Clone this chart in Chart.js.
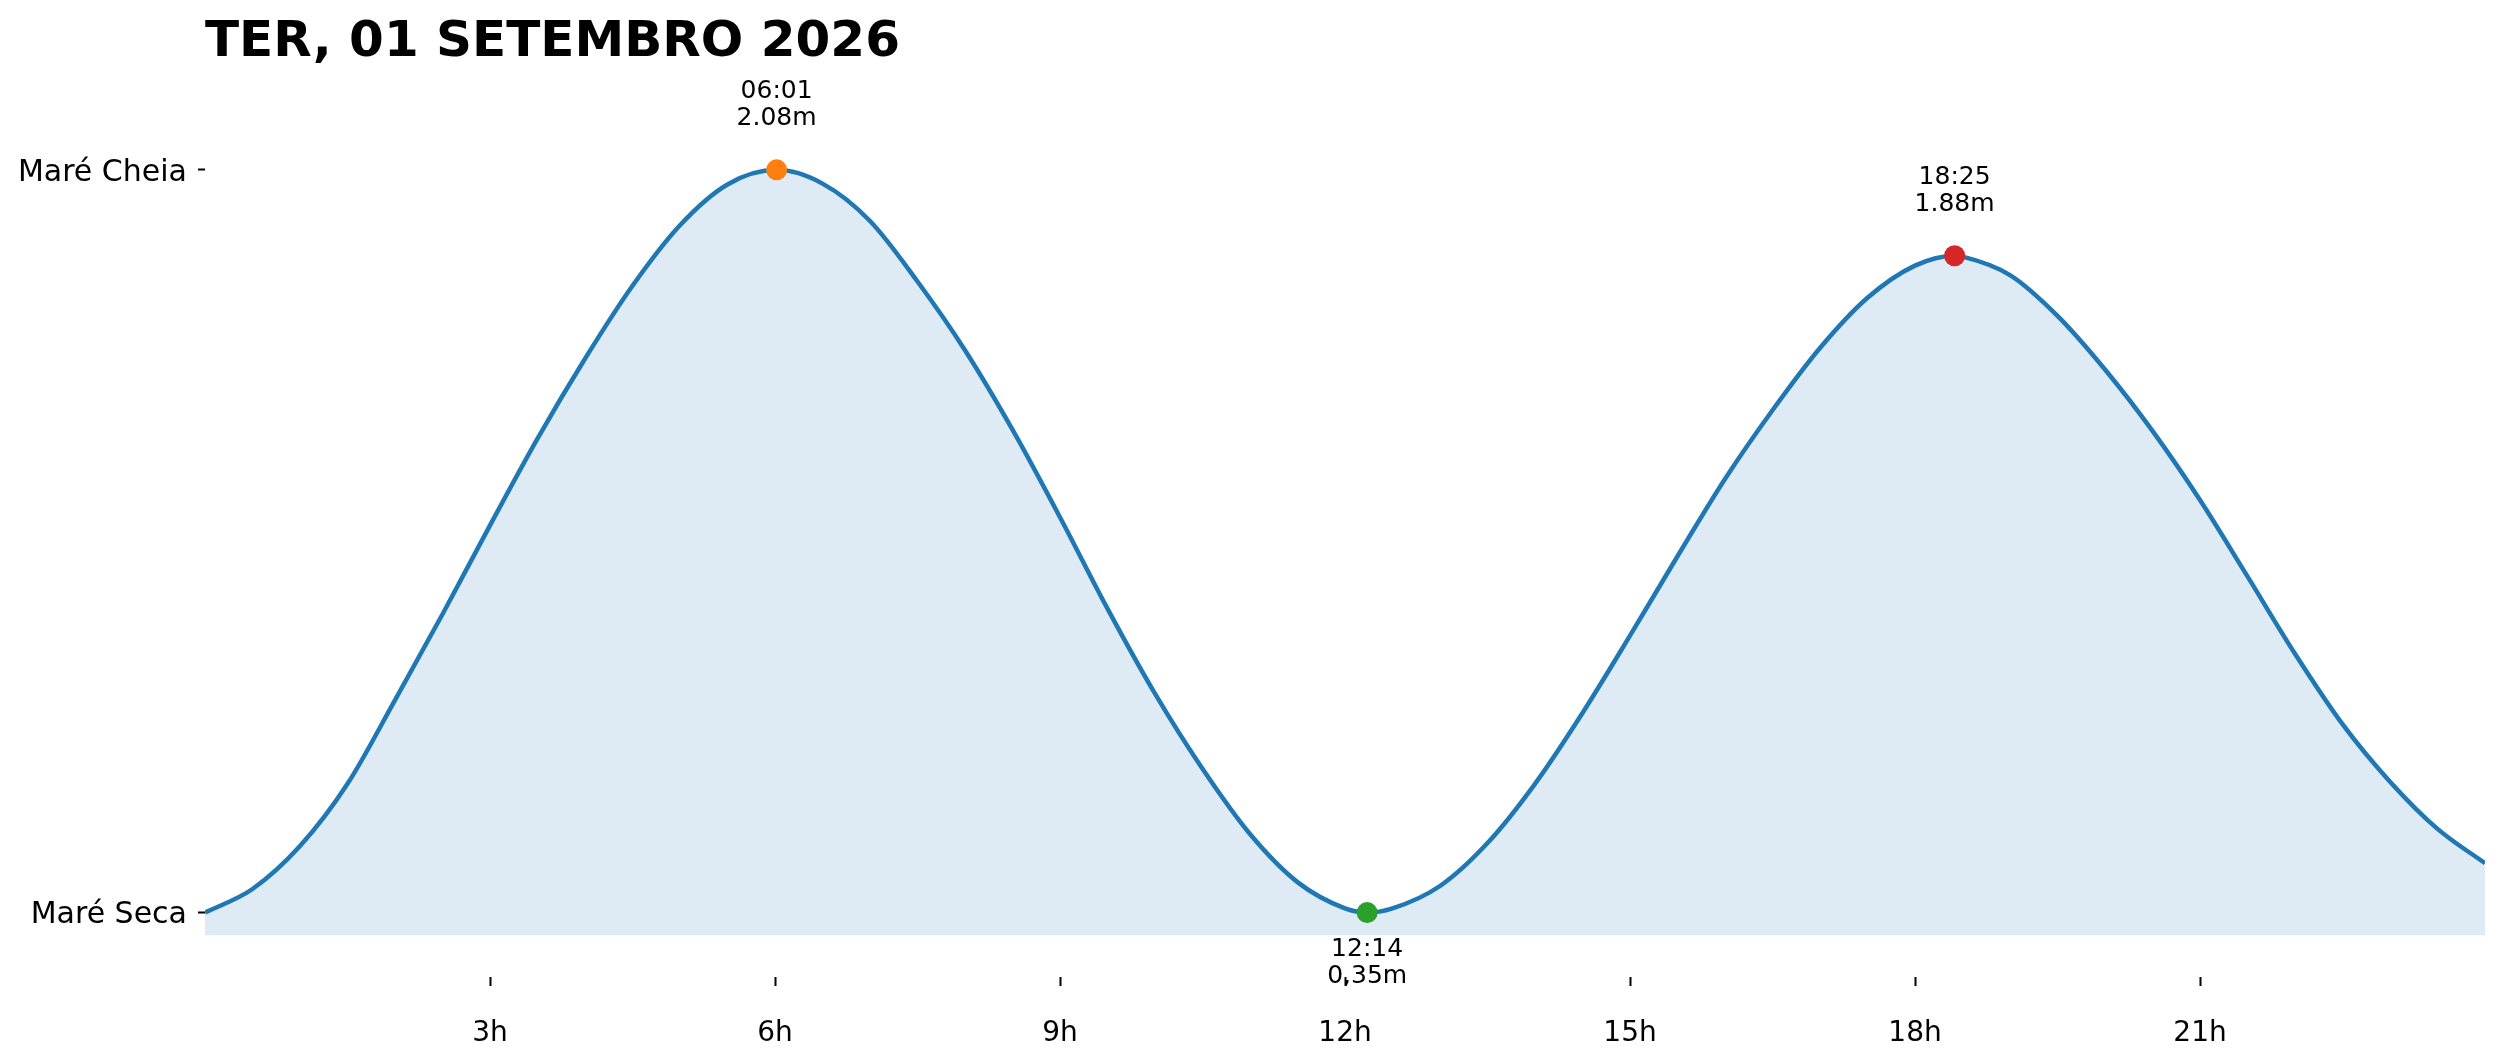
<!DOCTYPE html>
<html>
<head>
<meta charset="utf-8">
<title>Tábua de marés</title>
<script src="https://cdn.jsdelivr.net/npm/chart.js@4/dist/chart.umd.min.js"></script>
<style>
  html, body { margin: 0; padding: 0; background: #fff; }
  #wrap { width: 2501px; height: 1062px; }
</style>
</head>
<body>
<div id="wrap"><canvas id="tideChart" width="2501" height="1062"></canvas></div>
<script>
// titulo do dia
const dayTitle = 'TER, 01 SETEMBRO 2026';

// curva da mare (hora do dia, altura em metros), de meia em meia hora
const hours = [0, 0.5, 1, 1.5, 2, 2.5, 3, 3.5, 4, 4.5, 5, 5.5, 6.017, 6.5, 7, 7.5, 8, 8.5, 9, 9.5, 10, 10.5, 11, 11.5, 12,
               12.233, 12.5, 13, 13.5, 14, 14.5, 15, 15.5, 16, 16.5, 17, 17.5, 18, 18.417, 18.5, 19, 19.5, 20, 20.5, 21,
               21.5, 22, 22.5, 23, 23.5, 24];
const levels = [0.35, 0.405, 0.505, 0.65, 0.845, 1.045, 1.252, 1.454, 1.64, 1.81, 1.951, 2.046, 2.08, 2.048, 1.961, 1.82,
                1.66, 1.475, 1.271, 1.058, 0.86, 0.685, 0.533, 0.421, 0.36,
                0.35, 0.36, 0.412, 0.512, 0.65, 0.815, 0.995, 1.18, 1.36, 1.52, 1.665, 1.782, 1.857, 1.88, 1.878, 1.835,
                1.74, 1.615, 1.472, 1.311, 1.133, 0.953, 0.789, 0.655, 0.545, 0.465];

// pontos de mare cheia / seca
const extremeHours  = [6.017, 12.233, 18.417];
const extremeLevels = [2.08, 0.35, 1.88];
const extremeTimes  = ['06:01', '12:14', '18:25'];
const extremeLabels = ['2.08m', '0,35m', '1.88m'];
const extremeKinds  = ['cheia', 'seca', 'cheia'];

// eixos
const xTickValues = [3, 6, 9, 12, 15, 18, 21];
const xTickLabels = ['3h', '6h', '9h', '12h', '15h', '18h', '21h'];
const yTickValues = [0.35, 2.08];
const yTickLabels = ['Maré Seca', 'Maré Cheia'];
const fillBase = 0.297;

const markerColors = ['#ff7f0e', '#2ca02c', '#d62728'];
const FONT = "'DejaVu Sans', 'Liberation Sans', sans-serif";

const curve = hours.map((h, i) => ({ x: h, y: levels[i] }));
const extremes = extremeHours.map((h, i) => ({ x: h, y: extremeLevels[i] }));

const tideLabels = {
    id: 'tideLabels',
    afterDatasetsDraw(chart) {
        const { ctx, scales } = chart;
        ctx.save();
        ctx.fillStyle = '#000';
        ctx.textAlign = 'center';
        ctx.textBaseline = 'alphabetic';
        ctx.font = '25px ' + FONT;
        extremeHours.forEach((h, i) => {
            const px = scales.x.getPixelForValue(h);
            const py = scales.y.getPixelForValue(extremeLevels[i]);
            if (extremeKinds[i] === 'cheia') {
                ctx.fillText(extremeTimes[i], px, py - 72);
                ctx.fillText(extremeLabels[i], px, py - 45);
            } else {
                ctx.fillText(extremeTimes[i], px, py + 43);
                ctx.fillText(extremeLabels[i], px, py + 70);
            }
        });
        // titulo
        ctx.textAlign = 'left';
        ctx.font = 'bold 50px ' + FONT;
        ctx.fillText(dayTitle, 205, 56);
        ctx.restore();
    }
};

new Chart(document.getElementById('tideChart').getContext('2d'), {
    type: 'line',
    data: {
        datasets: [
            {
                label: 'extremos',
                type: 'scatter',
                data: extremes,
                pointRadius: 10.5,
                pointHoverRadius: 10.5,
                pointBackgroundColor: markerColors,
                pointBorderWidth: 0,
                order: 0
            },
            {
                label: 'mare',
                data: curve,
                borderColor: '#1f77b4',
                borderWidth: 4.5,
                pointRadius: 0,
                cubicInterpolationMode: 'monotone',
                fill: { value: fillBase },
                backgroundColor: 'rgba(31, 119, 180, 0.15)',
                order: 1
            }
        ]
    },
    options: {
        responsive: false,
        devicePixelRatio: 1,
        animation: false,
        layout: { padding: { left: 0, right: 16, top: 84, bottom: 0 } },
        plugins: {
            legend: { display: false },
            title: { display: false },
            tooltip: { enabled: false }
        },
        scales: {
            x: {
                type: 'linear',
                min: 0,
                max: 24,
                afterBuildTicks: axis => { axis.ticks = xTickValues.map(v => ({ value: v })); },
                afterFit: axis => { axis.height = 85; },
                ticks: {
                    autoSkip: false,
                    maxRotation: 0,
                    padding: 31,
                    color: '#000',
                    font: { family: FONT, size: 28 },
                    callback: v => xTickLabels[xTickValues.indexOf(v)]
                },
                grid: {
                    drawOnChartArea: false,
                    drawTicks: true,
                    tickLength: 9,
                    tickWidth: 2,
                    tickColor: '#000'
                },
                border: { display: false }
            },
            y: {
                type: 'linear',
                min: 0.2,
                max: 2.28,
                afterBuildTicks: axis => { axis.ticks = yTickValues.map(v => ({ value: v })); },
                afterFit: axis => { axis.width = 205; },
                ticks: {
                    autoSkip: false,
                    padding: 11,
                    labelOffset: 3,
                    color: '#000',
                    font: { family: FONT, size: 30 },
                    callback: v => yTickLabels[yTickValues.indexOf(v)]
                },
                grid: {
                    drawOnChartArea: false,
                    drawTicks: true,
                    tickLength: 7,
                    tickWidth: 2,
                    tickColor: '#000'
                },
                border: { display: false }
            }
        }
    },
    plugins: [tideLabels]
});
</script>
</body>
</html>
